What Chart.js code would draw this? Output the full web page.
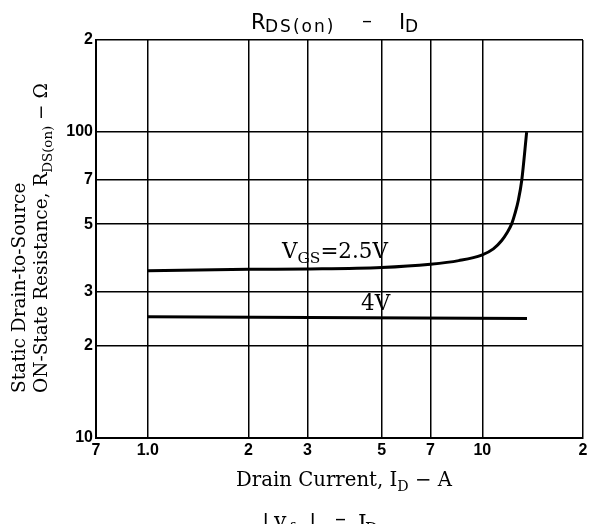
<!DOCTYPE html>
<html>
<head>
<meta charset="utf-8">
<script src="https://cdn.jsdelivr.net/npm/chart.js@4"></script>
<style>
  html, body { margin: 0; padding: 0; background: #fff; }
  #wrap { width: 593px; height: 524px; }
</style>
</head>
<body>
<div id="wrap"><canvas id="myChart" width="593" height="524"></canvas></div>
<script>
// tick positions and their printed labels (log decades print only the leading digit)
const xTicks = [0.7, 1, 2, 3, 5, 7, 10, 20];
const xTickLabels = ["7", "1.0", "2", "3", "5", "7", "10", "2"];
const yTicks = [10, 20, 30, 50, 70, 100, 200];
const yTickLabels = ["10", "2", "3", "5", "7", "100", "2"];

// VGS = 2.5V curve
const current25 = [1, 2, 3, 5, 7, 8.5, 9.96, 10.79, 11.43, 11.83, 12.24, 12.53, 12.82, 13.12, 13.57];
const rds25 = [35.2, 35.6, 35.7, 36.1, 37.0, 38.0, 39.6, 41.5, 44.2, 46.7, 50.1, 54.3, 60.0, 69.6, 100];

// VGS = 4V curve
const current4 = [1, 13.6];
const rds4 = [24.9, 24.6];

const serif = "'DejaVu Serif', 'Liberation Serif', serif";
const sans = "'DejaVu Sans', 'Liberation Sans', sans-serif";
const tickFont = { family: "'Liberation Sans Narrow', 'Liberation Sans', sans-serif", size: 16, weight: "bold" };

// draws text parts; parts with sub:true are smaller and lowered
function drawParts(ctx, parts, x, y, size, family) {
  let cx = x;
  parts.forEach((p) => {
    const fs = p.sub ? size * 0.72 : size;
    ctx.font = `${fs}px ${family}`;
    ctx.fillText(p.t, cx, p.sub ? y + size * 0.25 : y);
    cx += ctx.measureText(p.t).width;
  });
  return cx - x;
}
function partsWidth(ctx, parts, size, family) {
  let w = 0;
  parts.forEach((p) => {
    ctx.font = `${p.sub ? size * 0.72 : size}px ${family}`;
    w += ctx.measureText(p.t).width;
  });
  return w;
}
// font size that makes the parts span a given width
function fitSize(ctx, parts, width, family) {
  return (100 * width) / partsWidth(ctx, parts, 100, family);
}

const textPlugin = {
  id: "texts",
  afterDraw(chart) {
    const ctx = chart.ctx;
    ctx.save();
    ctx.fillStyle = "#000";
    ctx.textBaseline = "alphabetic";
    ctx.textAlign = "left";

    // top title
    ctx.font = `21px ${sans}`;
    ctx.fillText("R", 251, 29);
    ctx.font = `17px ${sans}`;
    ctx.letterSpacing = "2px";
    ctx.fillText("DS(on)", 265, 32);
    ctx.letterSpacing = "0px";
    ctx.font = `20px ${sans}`;
    ctx.fillText("\u2013", 362, 27);
    ctx.font = `21px ${sans}`;
    ctx.fillText("I", 399, 29);
    ctx.font = `17px ${sans}`;
    ctx.fillText("D", 405, 32);

    // x axis title
    const xt = [{ t: "Drain Current, I" }, { t: "D", sub: true }, { t: " \u2212 A" }];
    let s = fitSize(ctx, xt, 216, serif);
    drawParts(ctx, xt, 236, 486, s, serif);

    // next chart title, cut off by the bottom edge
    ctx.font = `22px ${serif}`;
    ctx.fillText("|", 262, 530);
    ctx.fillText("y", 274, 528);
    ctx.font = `15px ${serif}`;
    ctx.fillText("fs", 289, 533);
    ctx.font = `22px ${serif}`;
    ctx.fillText("|", 309, 530);
    ctx.fillText("\u2013", 335, 526);
    ctx.fillText("I", 358, 530);
    ctx.font = `16px ${serif}`;
    ctx.fillText("D", 365, 534);

    // y axis title, rotated
    const yt2 = [{ t: "ON-State Resistance, R" }, { t: "DS(on)", sub: true }, { t: " \u2212 \u03a9" }];
    s = fitSize(ctx, yt2, 310, serif);
    ctx.save();
    ctx.translate(25, 393);
    ctx.rotate(-Math.PI / 2);
    ctx.font = `${s}px ${serif}`;
    ctx.fillText("Static Drain-to-Source", 0, 0);
    ctx.restore();
    ctx.save();
    ctx.translate(47, 393);
    ctx.rotate(-Math.PI / 2);
    drawParts(ctx, yt2, 0, 0, s, serif);
    ctx.restore();

    // curve labels
    const l25 = [{ t: "V" }, { t: "GS", sub: true }, { t: "=2.5V" }];
    s = fitSize(ctx, l25, 106, serif);
    drawParts(ctx, l25, 282, 258, s, serif);
    drawParts(ctx, [{ t: "4V" }], 361, 310, s, serif);
    ctx.restore();
  },
};

new Chart(document.getElementById("myChart"), {
  type: "line",
  data: {
    datasets: [
      {
        label: "VGS=2.5V",
        data: current25.map((x, i) => ({ x: x, y: rds25[i] })),
        borderColor: "#000",
        borderWidth: 3,
        pointRadius: 0,
        cubicInterpolationMode: "monotone",
      },
      {
        label: "4V",
        data: current4.map((x, i) => ({ x: x, y: rds4[i] })),
        borderColor: "#000",
        borderWidth: 3,
        pointRadius: 0,
      },
    ],
  },
  options: {
    responsive: false,
    animation: false,
    layout: { padding: { left: 0, right: 10, top: 40, bottom: 0 } },
    plugins: { legend: { display: false }, tooltip: { enabled: false } },
    scales: {
      x: {
        type: "logarithmic",
        min: 0.7,
        max: 20,
        afterBuildTicks: (scale) => {
          scale.ticks = xTicks.map((v) => ({ value: v }));
        },
        afterFit: (scale) => {
          scale.height = 86;
        },
        ticks: {
          autoSkip: false,
          maxRotation: 0,
          padding: 3,
          color: "#000",
          font: tickFont,
          callback: (v, i) => xTickLabels[i],
        },
        grid: { color: "#000", lineWidth: 1.5, drawTicks: false },
        border: { color: "#000", width: 2 },
      },
      y: {
        type: "logarithmic",
        min: 10,
        max: 200,
        afterBuildTicks: (scale) => {
          scale.ticks = yTicks.map((v) => ({ value: v }));
        },
        afterFit: (scale) => {
          scale.width = 96;
        },
        ticks: {
          autoSkip: false,
          padding: 3,
          color: "#000",
          font: tickFont,
          callback: (v, i) => yTickLabels[i],
        },
        grid: { color: "#000", lineWidth: 1.5, drawTicks: false },
        border: { color: "#000", width: 2 },
      },
    },
  },
  plugins: [textPlugin],
});
</script>
</body>
</html>
